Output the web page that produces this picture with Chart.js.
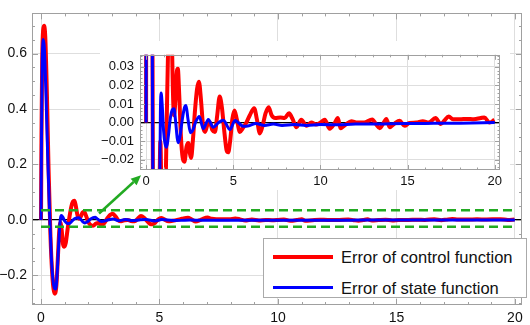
<!DOCTYPE html>
<html><head><meta charset="utf-8">
<script src="https://cdn.jsdelivr.net/npm/chart.js@4.4.1/dist/chart.umd.min.js"></script>
<style>
html,body{margin:0;padding:0;background:#fff;}
#wrap{position:relative;width:530px;height:325px;overflow:hidden;font-family:"Liberation Sans",Arial,sans-serif;}
#main{position:absolute;left:0;top:0;}
#inset{position:absolute;left:100px;top:41px;}
#legend{position:absolute;left:263px;top:238px;width:264px;height:60px;background:#fff;border:1px solid #aaa;box-sizing:border-box;}
.row{position:absolute;left:0;height:20px;}
.sw{position:absolute;left:9px;width:60px;}
.lt{position:absolute;left:77px;font-size:16.5px;line-height:20px;color:#111;white-space:nowrap;}
</style></head>
<body>
<div id="wrap">
<canvas id="main" width="530" height="325"></canvas>
<canvas id="inset" width="410" height="149"></canvas>
<div id="legend">
 <div class="row" style="top:8px;"><div class="sw" style="top:8px;height:4px;background:#ff0000;"></div><div class="lt">Error of control function</div></div>
 <div class="row" style="top:39px;"><div class="sw" style="top:8px;height:3px;background:#0000ff;"></div><div class="lt">Error of state function</div></div>
</div>
</div>
<script>
// ---- data ----
const controlX = [0,0.02,0.05,0.09,0.13,0.18,0.25,0.32,0.40,0.47,0.53,0.59,0.65,0.71,0.77,0.82,0.87,0.93,0.98,1.04,1.12,1.2,1.28,1.35,1.41,1.47,1.53,1.6,1.68,1.75,1.82,1.9,2.0,2.1,2.2,2.32,2.42,2.5,2.58,2.68,2.8,2.92,3.03,3.15,3.27,3.38,3.52,3.66,3.8,3.95,4.08,4.22,4.35,4.5,4.62,4.71,4.82,4.95,5.07,5.2,5.38,5.55,5.75,5.95,6.2,6.35,6.53,6.7,6.85,7.03,7.2,7.4,7.7,7.95,8.2,8.4,8.62,8.9,9.2,9.48,9.75,10.0,10.25,10.53,10.8,11.0,11.15,11.45,11.77,12.1,12.5,12.97,13.2,13.4,13.6,13.78,13.97,14.25,14.54,14.83,15.1,15.5,15.87,16.2,16.6,16.9,17.1,17.36,17.6,18.0,18.4,18.8,19.2,19.4,19.7,19.98];
const controlY = [0,0.30,0.58,0.685,0.700,0.66,0.45,0.18,-0.06,-0.19,-0.25,-0.266,-0.235,-0.14,-0.04,-0.01,-0.035,-0.088,-0.097,-0.085,-0.035,0.01,0.048,0.066,0.069,0.05,0.02,0.004,0.012,0.026,0.029,0.015,-0.008,-0.019,-0.021,-0.013,-0.011,-0.016,-0.019,-0.01,0.006,0.018,0.022,0.012,-0.002,-0.005,-0.001,0.0,-0.004,-0.005,0.004,0.014,0.008,-0.006,-0.015,-0.016,-0.01,0.002,0.0065,0.002,-0.005,-0.003,0.0,0.004,0.0078,0.002,-0.0058,-0.001,0.005,0.0083,0.004,0.0025,0.0028,0.0025,0.005,0.002,-0.0025,0.0015,-0.0017,0.0,-0.001,0.0,0.0015,-0.0033,-0.0005,0.0025,-0.003,-0.001,0.0008,0.0,0.0,0.0017,-0.001,-0.003,-0.0005,0.002,-0.0025,-0.0005,0.001,-0.0017,-0.0002,0.0,0.0008,0.0,0.0025,-0.0008,0.001,0.0033,0.0018,0.0018,0.002,0.0018,0.0025,0.0028,0.0,0.0015];
const stateX = [0,0.02,0.05,0.08,0.1,0.14,0.2,0.28,0.36,0.44,0.51,0.57,0.62,0.67,0.72,0.77,0.82,0.86,0.92,1.0,1.08,1.18,1.28,1.4,1.5,1.6,1.7,1.78,1.85,1.95,2.08,2.2,2.29,2.4,2.55,2.68,2.85,3.05,3.28,3.57,3.85,4.15,4.43,4.81,5.1,5.58,5.9,6.3,6.8,7.3,7.8,8.5,9.2,10.0,11.0,12.0,13.0,14.0,15.0,16.5,18.0,20.0];
const stateY = [0,0.28,0.56,0.64,0.651,0.62,0.48,0.24,0.03,-0.14,-0.22,-0.247,-0.249,-0.21,-0.13,-0.05,0.005,0.016,0.01,-0.004,-0.011,-0.0133,-0.007,0.003,0.0068,0.0075,0.0,-0.008,-0.0108,-0.007,0.002,0.008,0.0092,0.002,-0.0055,-0.004,0.0005,0.0033,-0.0033,0.0017,-0.0025,0.0,0.0013,-0.0037,0.0012,-0.002,-0.0017,-0.0005,-0.0015,-0.0008,-0.0015,-0.001,-0.0015,-0.001,-0.0012,-0.0008,-0.0008,-0.0006,-0.0005,-0.0004,-0.0003,0.0];
const bandX = [0, 20];
const bandUpper = [0.035, 0.035];
const bandLower = [-0.025, -0.025];
const arrowFrom = {x: 2.45, y: 0.023};
const arrowTo = {x: 4.22, y: 0.161};
const mainXTicks = [0,5,10,15,20];
const mainYTicks = [-0.2,0,0.2,0.4,0.6];
const insetXTicks = [0,5,10,15,20];
const insetYTicks = [-0.02,-0.01,0,0.01,0.02,0.03];
const legendLabels = ["Error of control function","Error of state function"];

const pts = (xs, ys) => xs.map((x,i)=>({x, y: ys[i]}));
const fmt = (v,d) => (v < 0 ? '\u2212' : '') + Math.abs(v).toFixed(d);
const RED='#ff0000', BLUE='#0000ff', GREEN='#22aa22';
const FONT = '"Liberation Sans", Arial, sans-serif';

const whiteBg = { id:'whiteBg', beforeDraw(c){ const x=c.ctx; x.save(); x.fillStyle='#fff'; x.fillRect(0,0,c.width,c.height); x.restore(); } };

const frame = {
  id:'frame',
  afterDraw(c, a, o){
    const ctx=c.ctx, ca=c.chartArea, xs=c.scales.x, ys=c.scales.y;
    ctx.save();
    ctx.strokeStyle='#a0a0a0'; ctx.lineWidth=1;
    ctx.strokeRect(Math.round(ca.left)+0.5, Math.round(ca.top)+0.5, Math.round(ca.right-ca.left)-1, Math.round(ca.bottom-ca.top)-1);
    const tick=(px,len,vert)=>{
      ctx.beginPath();
      if(vert){ const p=Math.round(px)+0.5; ctx.moveTo(p,ca.bottom); ctx.lineTo(p,ca.bottom-len); ctx.moveTo(p,ca.top); ctx.lineTo(p,ca.top+len); }
      else { const p=Math.round(px)+0.5; ctx.moveTo(ca.left,p); ctx.lineTo(ca.left+len,p); ctx.moveTo(ca.right,p); ctx.lineTo(ca.right-len,p); }
      ctx.stroke();
    };
    const doAxis=(scale,major,step,vert)=>{
      major.forEach(v=>tick(scale.getPixelForValue(v),o.majorLen,vert));
      const k0=Math.ceil(scale.min/step-1e-9), k1=Math.floor(scale.max/step+1e-9);
      for(let k=k0;k<=k1;k++){ const v=k*step; if(major.some(m=>Math.abs(m-v)<step*1e-3)) continue; tick(scale.getPixelForValue(v),o.minorLen,vert); }
    };
    doAxis(xs,o.xMajor,o.xStep,true);
    doAxis(ys,o.yMajor,o.yStep,false);
    ctx.restore();
  }
};

function drawArrow(ctx, x1,y1,x2,y2){
  const ang=Math.atan2(y2-y1,x2-x1), L=10, W=4.5;
  const bx=x2-L*Math.cos(ang), by=y2-L*Math.sin(ang);
  ctx.save();
  ctx.strokeStyle=GREEN; ctx.fillStyle=GREEN; ctx.lineWidth=2.5;
  ctx.beginPath(); ctx.moveTo(x1,y1); ctx.lineTo(bx,by); ctx.stroke();
  ctx.beginPath(); ctx.moveTo(x2,y2);
  ctx.lineTo(bx+W*Math.sin(ang), by-W*Math.cos(ang));
  ctx.lineTo(bx-W*Math.sin(ang), by+W*Math.cos(ang));
  ctx.closePath(); ctx.fill();
  ctx.restore();
}
let mainChart = null;
function arrowPixels(ch){
  const xs=ch.scales.x, ys=ch.scales.y;
  return [xs.getPixelForValue(arrowFrom.x), ys.getPixelForValue(arrowFrom.y), xs.getPixelForValue(arrowTo.x), ys.getPixelForValue(arrowTo.y)];
}
const mainArrow = { id:'mainArrow', afterDraw(c){ const p=arrowPixels(c); drawArrow(c.ctx,p[0],p[1],p[2],p[3]); } };
const insetArrow = { id:'insetArrow', afterDraw(c){ if(!mainChart) return; const p=arrowPixels(mainChart); drawArrow(c.ctx,p[0]-100,p[1]-41,p[2]-100,p[3]-41); } };

function lineDs(label, data, color, w, order){
  return {label, data, borderColor:color, backgroundColor:color, borderWidth:w, pointRadius:0, fill:false, cubicInterpolationMode:'monotone', order};
}
function scalesFor(xmin,xmax,ymin,ymax,xt,yt,yd,fs,yw,xh,ypad,xpad){
  return {
    x:{type:'linear',min:xmin,max:xmax,
       afterBuildTicks:s=>{s.ticks=xt.map(v=>({value:v}));},
       afterFit:s=>{s.height=xh;},
       ticks:{callback:v=>String(v),font:{family:FONT,size:fs},color:'#111',padding:xpad,maxRotation:0,autoSkip:false},
       grid:{color:'#dedede',lineWidth:1,drawTicks:false},border:{display:false}},
    y:{type:'linear',min:ymin,max:ymax,
       afterBuildTicks:s=>{s.ticks=yt.map(v=>({value:v}));},
       afterFit:s=>{s.width=yw;},
       ticks:{callback:v=>fmt(v,yd),font:{family:FONT,size:fs},color:'#111',padding:ypad,autoSkip:false},
       grid:{color:ctx=>ctx.tick&&Math.abs(ctx.tick.value)<1e-9?'#000':'#dedede',lineWidth:ctx=>ctx.tick&&Math.abs(ctx.tick.value)<1e-9?1.3:1,drawTicks:false},border:{display:false}}
  };
}

mainChart = new Chart(document.getElementById('main'), {
  type:'line',
  data:{datasets:[
    lineDs(legendLabels[0], pts(controlX,controlY), RED, 4, 2),
    lineDs(legendLabels[1], pts(stateX,stateY), BLUE, 3, 1),
    Object.assign(lineDs('upper', pts(bandX,bandUpper), GREEN, 2.5, 0),{borderDash:[9,5],cubicInterpolationMode:'default',tension:0}),
    Object.assign(lineDs('lower', pts(bandX,bandLower), GREEN, 2.5, 0),{borderDash:[9,5],cubicInterpolationMode:'default',tension:0})
  ]},
  options:{
    responsive:false, animation:false, devicePixelRatio:1,
    layout:{padding:{top:2,right:8,left:0,bottom:0}},
    plugins:{legend:{display:false},tooltip:{enabled:false},
      frame:{xMajor:mainXTicks,xStep:1,yMajor:mainYTicks,yStep:0.05,majorLen:6,minorLen:3}},
    scales:scalesFor(-0.38,20.3,-0.307,0.745,mainXTicks,mainYTicks,1,14,32,20,5,5)
  },
  plugins:[whiteBg,frame,mainArrow]
});

new Chart(document.getElementById('inset'), {
  type:'line',
  data:{datasets:[
    lineDs(legendLabels[0], pts(controlX,controlY), RED, 4, 2),
    lineDs(legendLabels[1], pts(stateX,stateY), BLUE, 3, 1)
  ]},
  options:{
    responsive:false, animation:false, devicePixelRatio:1,
    layout:{padding:{top:5.5,right:10,left:0,bottom:0}},
    plugins:{legend:{display:false},tooltip:{enabled:false},
      frame:{xMajor:insetXTicks,xStep:1,yMajor:insetYTicks,yStep:0.002,majorLen:5,minorLen:2.5}},
    scales:scalesFor(-0.35,20.3,-0.0255,0.0365,insetXTicks,insetYTicks,2,13,40,20,6,3.5)
  },
  plugins:[whiteBg,frame,insetArrow]
});
</script>
</body></html>
